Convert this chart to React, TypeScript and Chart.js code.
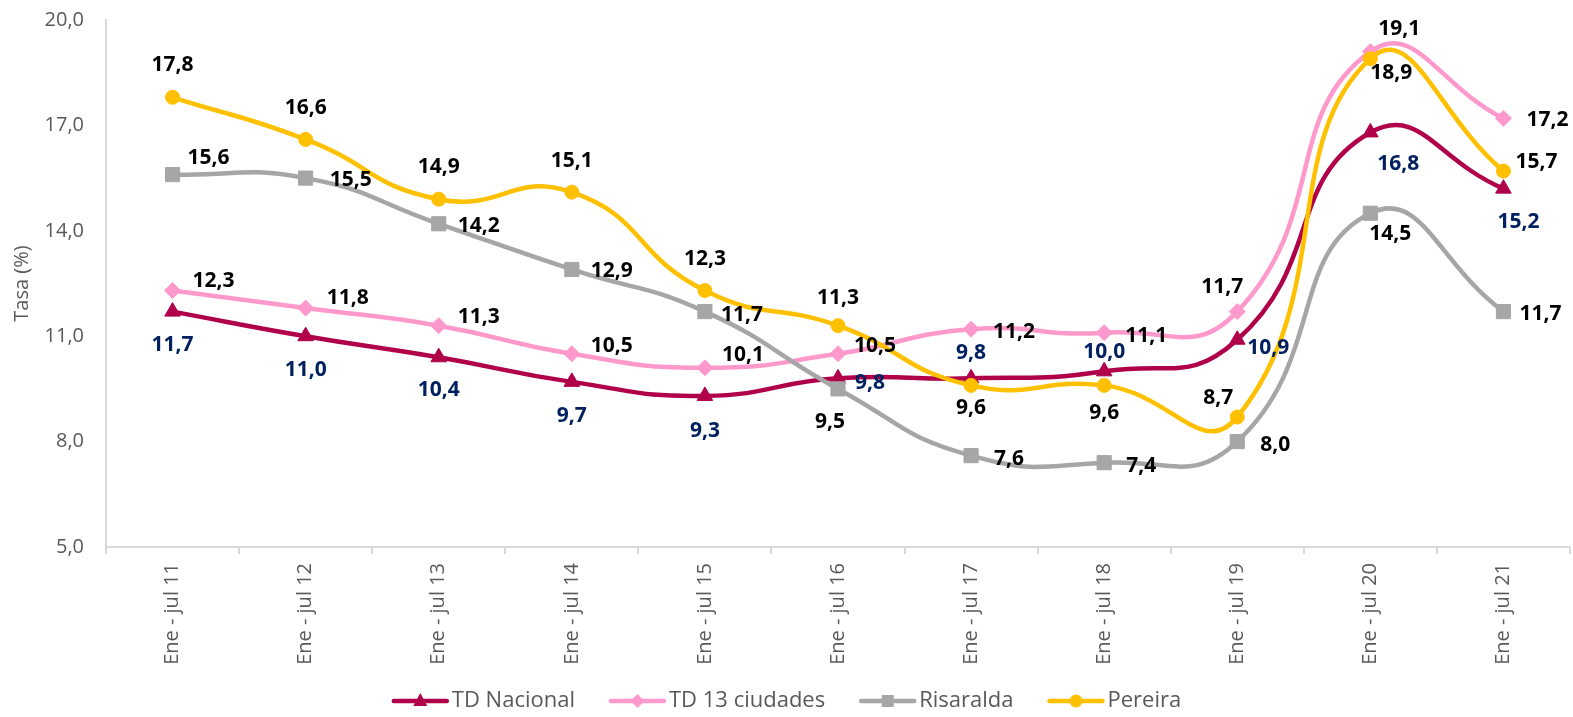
import React, { useEffect, useRef } from 'react';
import { Chart, registerables } from 'chart.js';

Chart.register(...registerables);

// ---------- data ----------
const categories = [
  'Ene - jul 11', 'Ene - jul 12', 'Ene - jul 13', 'Ene - jul 14', 'Ene - jul 15', 'Ene - jul 16',
  'Ene - jul 17', 'Ene - jul 18', 'Ene - jul 19', 'Ene - jul 20', 'Ene - jul 21',
];
const tdNacional = [11.7, 11.0, 10.4, 9.7, 9.3, 9.8, 9.8, 10.0, 10.9, 16.8, 15.2];
const td13Ciudades = [12.3, 11.8, 11.3, 10.5, 10.1, 10.5, 11.2, 11.1, 11.7, 19.1, 17.2];
const risaralda = [15.6, 15.5, 14.2, 12.9, 11.7, 9.5, 7.6, 7.4, 8.0, 14.5, 11.7];
const pereira = [17.8, 16.6, 14.9, 15.1, 12.3, 11.3, 9.6, 9.6, 8.7, 18.9, 15.7];
const yTicks = [5, 8, 11, 14, 17, 20];
const seriesNames = ['TD Nacional', 'TD 13 ciudades', 'Risaralda', 'Pereira'];

// ---------- label placement (layout, px offsets from point) ----------
const offNacional = [[0, 33], [0, 34], [0, 33], [0, 34], [0, 35], [32, 5], [0, -25], [0, -19], [31, 8], [28, 32], [15, 33]];
const off13 = [[41, -10], [42, -10], [40, -9], [40, -8], [38, -13], [37, -8], [43, 3], [42, 3], [-15, -25], [29, -23], [44, 2]];
const offRis = [[36, -17], [45, 2], [40, 2], [40, 2], [37, 3], [-8, 33], [38, 3], [37, 3], [38, 3], [20, 21], [37, 2]];
const offPer = [[0, -32], [0, -31], [0, -32], [0, -31], [0, -32], [0, -28], [0, 23], [0, 28], [-19, -19], [21, 14], [33, -9]];

// ---------- styles ----------
const COL_NAC = '#B0004A';
const COL_13 = '#FF99CC';
const COL_RIS = '#A6A6A6';
const COL_PER = '#FFC000';
const NAVY = '#002060';
const FONT = "'Open Sans', sans-serif";

const labelOffsets = [offNacional, off13, offRis, offPer];
const labelColors = [NAVY, '#000000', '#000000', '#000000'];
const legendStyles = [
  { color: COL_NAC, shape: 'triangle' },
  { color: COL_13, shape: 'diamond' },
  { color: COL_RIS, shape: 'square' },
  { color: COL_PER, shape: 'circle' },
];

const fmt = (v: number) => v.toFixed(1).replace('.', ',');

const dataLabelPlugin = {
  id: 'dataLabels',
  afterDatasetsDraw(chart: any) {
    const ctx = chart.ctx;
    ctx.save();
    ctx.font = `bold 21px ${FONT}`;
    ctx.textAlign = 'center';
    ctx.textBaseline = 'middle';
    chart.data.datasets.forEach((ds: any, d: number) => {
      const meta = chart.getDatasetMeta(d);
      ctx.fillStyle = labelColors[d];
      meta.data.forEach((pt: any, i: number) => {
        const [dx, dy] = labelOffsets[d][i];
        ctx.fillText(fmt(ds.data[i]), pt.x + dx, pt.y + dy);
      });
    });
    ctx.restore();
  },
};

function drawMarker(ctx: CanvasRenderingContext2D, shape: string, x: number, y: number) {
  ctx.beginPath();
  if (shape === 'triangle') {
    ctx.moveTo(x, y - 8);
    ctx.lineTo(x + 7, y + 5);
    ctx.lineTo(x - 7, y + 5);
    ctx.closePath();
  } else if (shape === 'diamond') {
    ctx.moveTo(x, y - 7);
    ctx.lineTo(x + 7, y);
    ctx.lineTo(x, y + 7);
    ctx.lineTo(x - 7, y);
    ctx.closePath();
  } else if (shape === 'square') {
    ctx.rect(x - 6, y - 6, 12, 12);
  } else {
    ctx.arc(x, y, 6.5, 0, Math.PI * 2);
  }
  ctx.fill();
}

const legendPlugin = {
  id: 'customLegend',
  afterDraw(chart: any) {
    const ctx = chart.ctx;
    ctx.save();
    ctx.font = `22px ${FONT}`;
    ctx.textBaseline = 'middle';
    ctx.textAlign = 'left';
    const lineLen = 57;
    const gapText = 3;
    const gapItem = 34;
    const widths = seriesNames.map((n) => ctx.measureText(n).width);
    const total = widths.reduce((a, w) => a + lineLen + gapText + w, 0) + gapItem * (seriesNames.length - 1);
    let x = (chart.width - total) / 2;
    const y = 701;
    seriesNames.forEach((name, i) => {
      const st = legendStyles[i];
      ctx.strokeStyle = st.color;
      ctx.fillStyle = st.color;
      ctx.lineWidth = 4.5;
      ctx.lineCap = 'round';
      ctx.beginPath();
      ctx.moveTo(x + 2, y);
      ctx.lineTo(x + lineLen - 2, y);
      ctx.stroke();
      drawMarker(ctx, st.shape, x + lineLen / 2, y);
      ctx.fillStyle = '#595959';
      ctx.fillText(name, x + lineLen + gapText, y);
      x += lineLen + gapText + widths[i] + gapItem;
    });
    ctx.restore();
  },
};

export default function App() {
  const canvasRef = useRef<HTMLCanvasElement | null>(null);

  useEffect(() => {
    const canvas = canvasRef.current;
    if (!canvas) return;
    const prevMargin = document.body.style.margin;
    document.body.style.margin = '0';
    Chart.defaults.font.family = FONT;

    const mk = (label: string, data: number[], color: string, pointStyle: string, radius: number, order: number) => ({
      label,
      data,
      borderColor: color,
      backgroundColor: color,
      pointBackgroundColor: color,
      pointBorderColor: color,
      pointBorderWidth: 1,
      pointStyle,
      pointRadius: radius,
      borderWidth: 4.5,
      tension: 0.5,
      fill: false,
      order,
    });

    const chart = new Chart(canvas, {
      type: 'line',
      data: {
        labels: categories,
        datasets: [
          mk(seriesNames[0], tdNacional, COL_NAC, 'triangle', 9, 3),
          mk(seriesNames[1], td13Ciudades, COL_13, 'rectRot', 8, 2),
          mk(seriesNames[2], risaralda, COL_RIS, 'rect', 10, 1),
          mk(seriesNames[3], pereira, COL_PER, 'circle', 7, 0),
        ] as any,
      },
      options: {
        responsive: false,
        animation: false,
        devicePixelRatio: 1,
        layout: { autoPadding: false, padding: { top: 20, right: 3, bottom: 0, left: 0 } },
        plugins: {
          legend: { display: false },
          tooltip: { enabled: false },
        },
        scales: {
          x: {
            offset: true,
            grid: {
              display: true,
              drawOnChartArea: false,
              drawTicks: true,
              tickLength: 7,
              offset: true,
              color: '#D9D9D9',
              lineWidth: 2,
            },
            border: { display: true, color: '#D9D9D9', width: 2 },
            ticks: {
              minRotation: 90,
              maxRotation: 90,
              autoSkip: false,
              padding: 9,
              color: '#595959',
              font: { size: 20, family: FONT },
            },
            afterFit: (s: any) => {
              s.height = 170;
              s.paddingLeft = 0;
              s.paddingRight = 0;
            },
          },
          y: {
            min: 5,
            max: 20,
            grid: { display: false, drawTicks: false },
            border: { display: true, color: '#D9D9D9', width: 2 },
            ticks: {
              padding: 22,
              color: '#595959',
              font: { size: 20, family: FONT },
              callback: (v: any) => fmt(Number(v)),
            },
            afterBuildTicks: (s: any) => { s.ticks = yTicks.map((v) => ({ value: v })); },
            title: {
              display: true,
              text: 'Tasa (%)',
              color: '#595959',
              font: { size: 20, family: FONT },
              padding: { top: 10, bottom: 0 },
            },
            afterFit: (s: any) => {
              s.width = 106;
              s.paddingTop = 0;
              s.paddingBottom = 0;
            },
          },
        },
      },
      plugins: [dataLabelPlugin, legendPlugin],
    });

    return () => {
      chart.destroy();
      document.body.style.margin = prevMargin;
    };
  }, []);

  return (
    <div style={{ position: 'fixed', left: 0, top: 0, width: 1573, height: 717, background: '#fff' }}>
      <canvas ref={canvasRef} width={1573} height={717} style={{ width: 1573, height: 717, display: 'block' }} />
    </div>
  );
}
